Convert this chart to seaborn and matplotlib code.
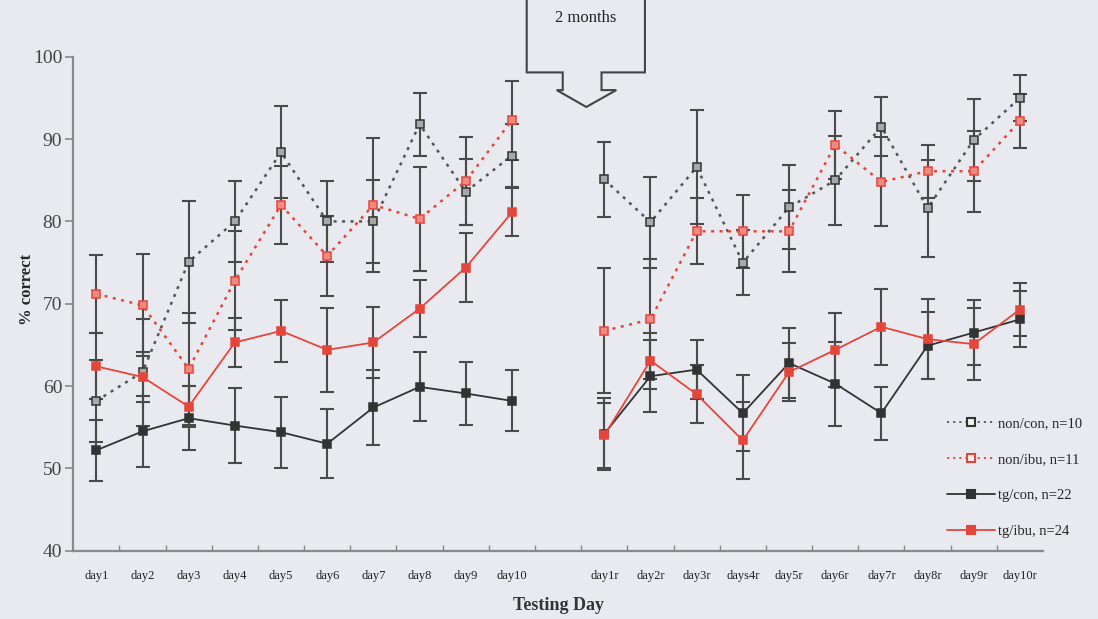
import numpy as np
import pandas as pd
import matplotlib
matplotlib.use("Agg")
import matplotlib.pyplot as plt
from matplotlib.patches import Polygon
from matplotlib.lines import Line2D
import seaborn as sns

# Testing days (training block, then retest after a break)
days_train = ["day1", "day2", "day3", "day4", "day5",
              "day6", "day7", "day8", "day9", "day10"]
days_retest = ["day1r", "day2r", "day3r", "days4r", "day5r",
               "day6r", "day7r", "day8r", "day9r", "day10r"]

# Mean % correct per group (train days then retest days)
non_con = [58.2, 61.7, 75.1, 80.0, 88.4, 80.0, 80.0, 91.8, 83.6, 88.0,
           85.1, 79.9, 86.6, 75.0, 81.7, 85.0, 91.5, 81.6, 89.9, 95.0]
non_ibu = [71.2, 69.8, 62.1, 72.8, 82.0, 75.8, 82.0, 80.3, 84.9, 92.3,
           66.7, 68.1, 78.8, 78.8, 78.8, 89.3, 84.8, 86.1, 86.1, 92.2]
tg_con = [52.2, 54.5, 56.1, 55.2, 54.4, 53.0, 57.4, 59.9, 59.1, 58.2,
          54.2, 61.2, 62.0, 56.7, 62.8, 60.3, 56.7, 64.9, 66.5, 68.1]
tg_ibu = [62.4, 61.1, 57.5, 65.3, 66.7, 64.4, 65.3, 69.4, 74.4, 81.1,
          54.0, 63.1, 59.0, 53.4, 61.7, 64.4, 67.2, 65.7, 65.1, 69.3]

# Standard errors
non_con_err = [5.0, 6.5, 7.4, 4.9, 5.6, 4.9, 5.0, 3.8, 4.0, 3.8,
               4.6, 5.5, 6.9, 3.9, 5.1, 5.4, 3.6, 5.9, 5.0, 2.8]
non_ibu_err = [4.7, 6.2, 6.8, 6.0, 4.7, 4.9, 8.1, 6.3, 5.3, 4.8,
               7.6, 7.3, 4.0, 4.4, 5.0, 4.1, 5.4, 3.2, 4.9, 3.3]
tg_con_err = [3.7, 4.3, 3.9, 4.6, 4.3, 4.2, 4.6, 4.2, 3.8, 3.7,
              4.4, 4.4, 3.6, 4.6, 4.2, 5.1, 3.2, 4.1, 3.9, 3.4]
tg_ibu_err = [4.0, 3.0, 2.5, 3.0, 3.8, 5.1, 4.3, 3.5, 4.2, 2.9,
              4.0, 3.4, 3.5, 4.7, 3.5, 4.5, 4.6, 4.9, 4.4, 3.2]

group_labels = ["non/con, n=10", "non/ibu, n=11", "tg/con, n=22", "tg/ibu, n=24"]

RED = "#e5463c"
DARK = "#333333"
ERR = "#4a4a4a"
BG = "#e9e9f0"

styles = {
    group_labels[0]: dict(color="#555555", ls=(0, (1.2, 2.2)), mfc="#a8a8a8", mec=DARK),
    group_labels[1]: dict(color=RED, ls=(0, (1.2, 2.2)), mfc="#f08a80", mec=RED),
    group_labels[2]: dict(color=DARK, ls="-", mfc=DARK, mec=DARK),
    group_labels[3]: dict(color=RED, ls="-", mfc=RED, mec=RED),
}

# Category positions: training days, an empty slot, then retest days
labels = days_train + [""] + days_retest
pos = list(range(len(days_train))) + list(range(len(days_train) + 1, len(labels)))
phase = ["train"] * len(days_train) + ["retest"] * len(days_retest)

frames = []
for name, vals, errs in zip(group_labels,
                            [non_con, non_ibu, tg_con, tg_ibu],
                            [non_con_err, non_ibu_err, tg_con_err, tg_ibu_err]):
    frames.append(pd.DataFrame({"group": name, "pos": pos, "phase": phase,
                                "value": vals, "err": errs}))
df = pd.concat(frames, ignore_index=True)

sns.set_theme(style="white")
plt.rcParams["font.family"] = ["Liberation Serif", "DejaVu Serif"]

fig = plt.figure(figsize=(10.98, 6.19), dpi=100)
fig.patch.set_facecolor(BG)
ax = fig.add_axes([0.0667, 0.1103, 0.8832, 0.798])
ax.set_facecolor(BG)

# Error bars first, so the lines sit on top
for name in group_labels:
    sub = df[df["group"] == name]
    ax.errorbar(sub["pos"], sub["value"], yerr=sub["err"], fmt="none",
                ecolor=ERR, elinewidth=1.5, capsize=5, capthick=1.5, zorder=2)

# Lines and markers, drawn per phase so the break is not bridged
for name in group_labels:
    st = styles[name]
    for ph in ["train", "retest"]:
        sub = df[(df["group"] == name) & (df["phase"] == ph)]
        sns.lineplot(data=sub, x="pos", y="value", ax=ax, color=st["color"],
                     linewidth=1.3 if st["ls"] == "-" else 1.8,
                     linestyle=st["ls"], marker="s", markersize=5.5,
                     markerfacecolor=st["mfc"], markeredgecolor=st["mec"],
                     markeredgewidth=1.1, legend=False, zorder=3)

ax.set_xlim(-0.5, len(labels) - 0.5)
ax.set_ylim(40, 100)
ax.set_yticks(np.arange(40, 101, 10))
ax.set_xticks(range(len(labels)))
ax.set_xticklabels(labels, fontsize=9)
ax.set_xticks(np.arange(0.5, len(labels) - 0.5, 1), minor=True)
ax.tick_params(axis="x", which="major", length=0, pad=14, colors="#222222")
ax.tick_params(axis="x", which="minor", direction="in", length=4,
               width=1, color="#888888", bottom=True)
ax.tick_params(axis="y", which="major", direction="out", length=6, width=1.2,
               color="#888888", labelsize=14, labelcolor="#444444", pad=2, left=True)

for s in ["top", "right"]:
    ax.spines[s].set_visible(False)
for s in ["left", "bottom"]:
    ax.spines[s].set_color("#8a8a8a")
    ax.spines[s].set_linewidth(1.6)

ax.set_ylabel("% correct", fontsize=12, fontweight="bold")
ax.yaxis.set_label_coords(-0.039, 0.528)
ax.set_xlabel("Testing Day", fontsize=13, fontweight="bold", labelpad=11,
              color="#333333")

# Legend
handles = []
for name in group_labels:
    st = styles[name]
    handles.append(Line2D([0], [0], color=st["color"], linestyle=st["ls"],
                          linewidth=1.3, marker="s", markersize=6,
                          markerfacecolor=st["mfc"] if st["ls"] == "-" else "#f2f2f2",
                          markeredgecolor=st["mec"], markeredgewidth=1.5))
ax.legend(handles, group_labels, loc="upper left", bbox_to_anchor=(0.895, 0.282),
          frameon=False, fontsize=10.5, labelspacing=1.55, handlelength=3.3,
          handletextpad=0.2, borderaxespad=0)

# "2 months" block-arrow callout over the break
box = [(9.32, 108.5), (9.32, 98.1), (10.10, 98.1), (10.10, 95.95), (9.97, 95.95),
       (10.61, 93.9), (11.26, 95.95), (10.94, 95.95), (10.94, 98.1), (11.88, 98.1),
       (11.88, 108.5)]
ax.add_patch(Polygon(box, closed=True, facecolor=BG, edgecolor="#444444",
                     linewidth=1.5, clip_on=False, zorder=5))
ax.text(10.6, 104.7, "2 months", ha="center", va="center", fontsize=12,
        color="#222222", zorder=6, clip_on=False)

fig.savefig("out.png", dpi=100, facecolor=BG)
